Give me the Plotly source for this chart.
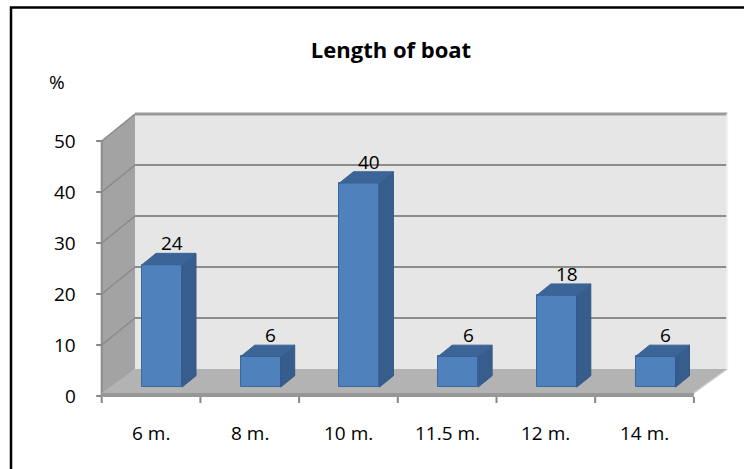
import plotly.graph_objects as go

# ---- data -------------------------------------------------------------
categories = ["6 m.", "8 m.", "10 m.", "11.5 m.", "12 m.", "14 m."]
percent = [24, 6, 40, 6, 18, 6]
y_ticks = [0, 10, 20, 30, 40, 50]
title_text = "Length of boat"
y_unit = "%"

# ---- geometry of the pseudo-3D box ------------------------------------
W, H = 744, 469
ORIGIN_PX = (101.7, 396.0)    # front-left-bottom corner of the box (pixels)
CAT_PX = 98.7                 # pixels per category step
VAL_PX = 5.1                  # pixels per value unit
DEPTH_PX = (33.3, 27.0)       # screen shift of the back plane (right, up)

DX = DEPTH_PX[0] / CAT_PX     # depth shift in category units
DY = DEPTH_PX[1] / VAL_PX     # depth shift in value units

x_lo = -0.5 - ORIGIN_PX[0] / CAT_PX
x_hi = x_lo + W / CAT_PX
y_lo = -(H - ORIGIN_PX[1]) / VAL_PX
y_hi = y_lo + H / VAL_PX

n = len(categories)
XL, XR = -0.5, n - 0.5
VMAX = max(y_ticks)
D0, D1 = 0.33, 0.75          # depth span occupied by the bars
BW = 0.405                    # bar width in category units
FLOOR_TOP, FLOOR_BOT = 0.6, -0.2


def proj(x, v, d):
    """Project a point of the box (category x, value v, depth d) to the plane."""
    return x + d * DX, v + d * DY


def path(points):
    return "M " + " L ".join(f"{x},{y}" for x, y in points) + " Z"


shapes = []


def poly(points, fill, line_color=None, line_width=0):
    shapes.append(dict(type="path", xref="x", yref="y", layer="below",
                       path=path(points), fillcolor=fill,
                       line=dict(color=line_color or fill, width=line_width)))


def seg(p, q, color, width):
    shapes.append(dict(type="line", xref="x", yref="y", layer="below",
                       x0=p[0], y0=p[1], x1=q[0], y1=q[1],
                       line=dict(color=color, width=width)))


# back wall with its gridlines
poly([proj(XL, 0, 1), proj(XR, 0, 1), proj(XR, VMAX, 1), proj(XL, VMAX, 1)], "#e6e6e6")
for v in y_ticks[1:]:
    seg(proj(XL, v, 1), proj(XR, v, 1), "#8c8c8c" if v < VMAX else "#9a9a9a", 2 if v < VMAX else 3)
seg(proj(XR, 0, 1), proj(XR, VMAX, 1), "#f2f2f2", 2)

# left side wall with its gridlines
poly([proj(XL, 0, 0), proj(XL, 0, 1), proj(XL, VMAX, 1), proj(XL, VMAX, 0)], "#a3a3a3")
for v in y_ticks[1:]:
    seg(proj(XL, v, 0), proj(XL, v, 1), "#8a8a8a", 1.5)
seg(proj(XL, 0, 0), proj(XL, VMAX, 0), "#8c8c8c", 2)

# floor slab
poly([proj(XL, FLOOR_TOP, 0), proj(XR, FLOOR_TOP, 0), proj(XR, 0, 1), proj(XL, 0, 1)], "#b3b3b3")
poly([proj(XL, FLOOR_BOT, 0), proj(XR, FLOOR_BOT, 0), proj(XR, FLOOR_TOP, 0), proj(XL, FLOOR_TOP, 0)], "#979797")
seg(proj(XR, FLOOR_TOP, 0), proj(XR, 0, 1), "#cdcdcd", 1.5)

# axis tick marks
tick_len_x = 5.5 / CAT_PX
tick_len_y = 6.0 / VAL_PX
for v in y_ticks:
    seg((XL - tick_len_x, v), (XL, v), "#868686", 2)
for k in range(n + 1):
    seg((XL + k, FLOOR_BOT), (XL + k, FLOOR_BOT - tick_len_y), "#868686", 2)

# outer chart frame
shapes.append(dict(type="rect", xref="paper", yref="paper", layer="above",
                   x0=11 / W, x1=1.05, y0=-0.05, y1=1 - 7.5 / H,
                   line=dict(color="black", width=2.5), fillcolor="rgba(0,0,0,0)"))

fig = go.Figure()

# bar fronts
fig.add_trace(go.Bar(
    x=[i + D0 * DX for i in range(n)], y=percent, base=[D0 * DY] * n,
    width=BW, marker=dict(color="#4f81bd", line=dict(color="#3a679c", width=1)),
    hoverinfo="skip", showlegend=False))

# bar sides and tops
sx, sy, tx, ty = [], [], [], []
for i, v in enumerate(percent):
    r, l = i + BW / 2, i - BW / 2
    for p in [proj(r, 0, D0), proj(r, 0, D1), proj(r, v, D1), proj(r, v, D0), proj(r, 0, D0)]:
        sx.append(p[0]); sy.append(p[1])
    sx.append(None); sy.append(None)
    for p in [proj(l, v, D0), proj(r, v, D0), proj(r, v, D1), proj(l, v, D1), proj(l, v, D0)]:
        tx.append(p[0]); ty.append(p[1])
    tx.append(None); ty.append(None)

fig.add_trace(go.Scatter(x=sx, y=sy, mode="lines", fill="toself", fillcolor="#375d8c",
                         line=dict(color="#34588a", width=1), hoverinfo="skip", showlegend=False))
fig.add_trace(go.Scatter(x=tx, y=ty, mode="lines", fill="toself", fillcolor="#3c6597",
                         line=dict(color="#3a6294", width=1), hoverinfo="skip", showlegend=False))

FONT = "Open Sans"
LABEL_SIZE = 19
annotations = []
# value labels above the bars
for i, v in enumerate(percent):
    cx, cy = proj(i + 3 / CAT_PX, v, (D0 + D1) / 2)
    annotations.append(dict(x=cx, y=v + D1 * DY + 10 / VAL_PX, text=str(v), showarrow=False,
                            xanchor="center", yanchor="middle",
                            font=dict(family=FONT, size=LABEL_SIZE, color="black")))
# category labels
for i, c in enumerate(categories):
    annotations.append(dict(x=i, y=-37 / VAL_PX, text=c, showarrow=False,
                            xanchor="center", yanchor="middle",
                            font=dict(family=FONT, size=LABEL_SIZE, color="black")))
# value-axis labels
for v in y_ticks:
    annotations.append(dict(x=XL - 23.7 / CAT_PX, y=v, text=str(v), showarrow=False,
                            xanchor="right", yanchor="middle",
                            font=dict(family=FONT, size=LABEL_SIZE, color="black")))
annotations.append(dict(x=XL - 44.7 / CAT_PX, y=314 / VAL_PX, text=y_unit, showarrow=False,
                        xanchor="center", yanchor="middle",
                        font=dict(family=FONT, size=LABEL_SIZE, color="black")))

fig.update_layout(
    width=W, height=H, margin=dict(l=0, r=0, t=0, b=0),
    paper_bgcolor="white", plot_bgcolor="white",
    title=dict(text=f"<b>{title_text}</b>", x=391 / W, y=1 - 50 / H,
               xanchor="center", yanchor="middle",
               font=dict(family=FONT, size=22, color="black")),
    xaxis=dict(range=[x_lo, x_hi], visible=False, fixedrange=True),
    yaxis=dict(range=[y_lo, y_hi], visible=False, fixedrange=True),
    shapes=shapes, annotations=annotations, showlegend=False, bargap=0,
)

fig.write_html("out.html")
